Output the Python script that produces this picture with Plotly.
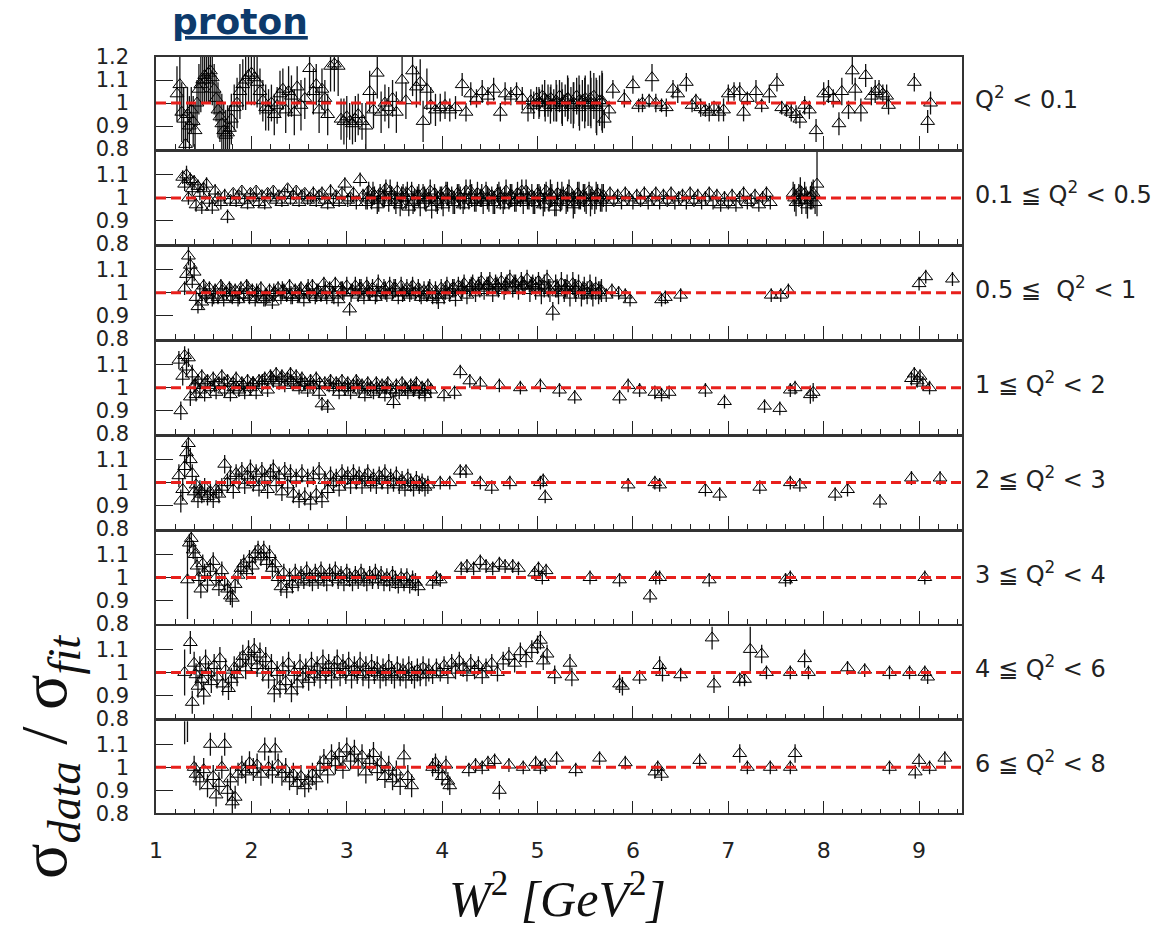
import plotly.graph_objects as go

# ---------------- data (x = W^2, y = sigma_data/sigma_fit, e = error) ----------------
panel_labels = ["Q<sup>2</sup> < 0.1", "0.1 ≦ Q<sup>2</sup> < 0.5", "0.5 ≦  Q<sup>2</sup> < 1",
                "1 ≦ Q<sup>2</sup> < 2", "2 ≦ Q<sup>2</sup> < 3", "3 ≦ Q<sup>2</sup> < 4",
                "4 ≦ Q<sup>2</sup> < 6", "6 ≦ Q<sup>2</sup> < 8"]
x_tick_vals = [1, 2, 3, 4, 5, 6, 7, 8, 9]
x_tick_text = ["1", "2", "3", "4", "5", "6", "7", "8", "9"]
y_tick_vals_top = [0.8, 0.9, 1.0, 1.1, 1.2]
y_tick_text_top = ["0.8", "0.9", "1", "1.1", "1.2"]
y_tick_vals = [0.8, 0.9, 1.0, 1.1]
y_tick_text = ["0.8", "0.9", "1", "1.1"]

q1 = [(1.22,1.04,0.12),(1.25,1.08,0.14),(1.27,0.96,0.13),(1.29,0.93,0.14),(1.31,0.82,0.10),(1.33,0.95,0.12),
      (1.35,0.90,0.13),(1.37,0.97,0.10),(1.39,0.92,0.11),(1.41,0.88,0.12),(1.43,1.00,0.10),(1.45,1.06,0.11),
      (1.47,1.08,0.12),(1.49,1.10,0.11),(1.51,1.12,0.12),(1.53,1.10,0.10),(1.55,1.13,0.13),(1.57,1.14,0.14),
      (1.59,1.11,0.12),(1.61,1.06,0.11),(1.63,1.02,0.10),(1.65,0.97,0.12),(1.67,0.94,0.11),(1.69,0.91,0.13),
      (1.71,0.88,0.12),(1.73,0.86,0.11),(1.75,0.87,0.12),(1.77,0.89,0.10),(1.79,0.93,0.11),(1.82,0.98,0.10),
      (1.85,1.00,0.11),(1.88,1.05,0.12),(1.91,1.08,0.11),(1.94,1.10,0.13),(1.97,1.12,0.12),(2.00,1.13,0.14),
      (2.03,1.11,0.12),(2.06,1.09,0.11),(2.09,1.05,0.10),(2.12,1.01,0.09),(2.15,0.98,0.10),(2.18,0.97,0.09),
      (2.21,1.00,0.08),(2.24,0.95,0.09),(2.27,0.99,0.08),(2.30,1.04,0.10),(2.33,1.06,0.09),(2.36,0.97,0.10),
      (2.39,1.05,0.11),(2.42,1.03,0.09),(2.45,0.96,0.10),(2.48,1.07,0.09),(2.52,0.99,0.11),(2.56,1.02,0.09),
      (2.61,1.15,0.12),(2.65,1.05,0.10),(2.68,1.08,0.09),(2.71,0.97,0.10),(2.74,1.06,0.09),(2.77,1.02,0.08),
      (2.80,0.95,0.09),(2.83,1.16,0.11),(2.87,1.17,0.12),(2.91,1.16,0.13),(2.94,0.93,0.09),(2.97,0.92,0.10),
      (3.00,0.94,0.09),(3.03,0.92,0.08),(3.06,0.91,0.09),(3.09,0.93,0.10),(3.12,0.95,0.09),(3.16,0.92,0.08),
      (3.20,0.90,0.10),(3.24,1.05,0.09),(3.28,0.97,0.08),(3.32,1.13,0.11),(3.36,0.96,0.09),(3.40,1.00,0.08),
      (3.44,0.98,0.09),(3.48,1.02,0.08),(3.52,0.96,0.09),(3.58,1.10,0.10),(3.62,1.01,0.08),(3.69,1.14,0.11),
      (3.73,1.07,0.09),(3.77,1.09,0.10),(3.80,0.92,0.09),(3.84,1.06,0.09),(3.88,0.99,0.08),(3.93,0.97,0.07),
      (3.98,0.98,0.06),(4.03,0.99,0.06),(4.08,0.97,0.05),(4.14,0.98,0.05),(4.21,1.08,0.05),(4.25,0.96,0.04),
      (4.30,1.04,0.05),(4.36,1.02,0.04),(4.42,1.05,0.05),(4.48,1.03,0.04),(4.54,1.06,0.05),(4.61,0.96,0.04),
      (4.66,1.04,0.05),(4.72,1.03,0.04),(4.78,1.05,0.04),(4.84,1.02,0.05),(4.90,0.97,0.05),(4.93,1.01,0.05),
      (4.96,0.99,0.06),(4.99,1.02,0.05),(5.02,1.00,0.06),(5.05,1.03,0.05),(5.08,0.98,0.06),(5.11,1.01,0.07),
      (5.14,1.02,0.06),(5.17,0.99,0.07),(5.20,1.00,0.08),(5.23,1.03,0.07),(5.26,0.98,0.08),(5.29,1.01,0.07),
      (5.32,1.02,0.09),(5.35,0.99,0.08),(5.38,1.00,0.09),(5.41,1.03,0.08),(5.44,0.98,0.10),(5.47,1.01,0.09),
      (5.50,1.02,0.10),(5.53,0.99,0.09),(5.56,1.00,0.11),(5.59,1.03,0.10),(5.62,0.98,0.12),(5.65,1.01,0.11),
      (5.68,1.00,0.13),(5.70,0.93,0.04),(5.75,0.97,0.04),(5.79,1.06,0.04),(5.91,1.02,0.04),(6.00,1.08,0.04),
      (6.06,0.99,0.03),(6.10,1.00,0.04),(6.17,1.01,0.03),(6.20,1.11,0.06),(6.24,1.00,0.04),(6.30,0.99,0.03),
      (6.35,0.98,0.04),(6.42,1.06,0.04),(6.47,1.04,0.04),(6.56,1.09,0.04),(6.62,0.99,0.03),(6.66,1.01,0.03),
      (6.71,0.98,0.04),(6.76,0.97,0.03),(6.80,0.96,0.04),(6.85,0.98,0.03),(6.90,0.96,0.04),(6.95,0.97,0.05),
      (7.00,1.04,0.04),(7.06,1.05,0.04),(7.12,1.05,0.04),(7.16,0.96,0.04),(7.20,1.02,0.03),(7.29,1.05,0.05),
      (7.35,0.99,0.03),(7.43,1.04,0.04),(7.51,1.09,0.04),(7.56,0.98,0.03),(7.61,0.97,0.03),(7.66,0.96,0.04),
      (7.71,0.95,0.04),(7.75,0.93,0.04),(7.80,0.99,0.04),(7.85,0.97,0.04),(7.92,0.88,0.05),(8.00,1.04,0.05),
      (8.05,1.05,0.05),(8.10,1.02,0.04),(8.16,0.91,0.05),(8.19,1.05,0.06),(8.26,0.97,0.04),(8.30,1.14,0.06),
      (8.33,1.06,0.05),(8.39,0.97,0.05),(8.44,1.12,0.05),(8.50,1.03,0.04),(8.54,1.05,0.05),(8.58,1.06,0.04),
      (8.62,1.04,0.04),(8.66,1.03,0.05),(8.68,0.99,0.04),(8.95,1.09,0.04),(9.09,0.92,0.05),(9.12,1.00,0.05),
      (5.015,1.00,0.07),(5.075,1.02,0.08),(5.135,0.99,0.08),(5.195,1.01,0.09),(5.255,1.00,0.09),(5.315,1.02,0.10),
      (5.375,0.99,0.10),(5.435,1.01,0.11),(5.495,1.00,0.11),(5.555,1.02,0.12),(5.615,0.99,0.12),(5.675,1.01,0.13)]

q2 = [(1.28,1.09,0.03),(1.30,1.06,0.03),(1.32,1.10,0.04),(1.34,1.00,0.03),(1.36,1.08,0.03),(1.38,1.04,0.03),
      (1.40,1.07,0.03),(1.42,0.97,0.03),(1.44,1.05,0.03),(1.46,1.02,0.03),(1.48,0.96,0.03),(1.50,1.04,0.03),
      (1.53,1.06,0.03),(1.56,0.99,0.03),(1.59,0.96,0.03),(1.62,1.03,0.03),(1.65,1.00,0.03),(1.68,0.98,0.03),
      (1.72,1.01,0.03),(1.75,0.92,0.03),(1.78,0.99,0.02),(1.81,1.02,0.02),(1.84,0.98,0.02),(1.87,1.01,0.02),
      (1.90,1.03,0.02),(1.93,0.99,0.02),(1.96,0.97,0.02),(1.99,1.02,0.02),(2.02,1.00,0.02),(2.05,1.03,0.02),
      (2.08,0.98,0.02),(2.11,1.01,0.02),(2.14,0.97,0.02),(2.17,1.02,0.02),(2.20,1.00,0.02),(2.23,1.03,0.02),
      (2.26,0.99,0.02),(2.29,1.01,0.02),(2.32,0.98,0.02),(2.35,1.02,0.02),(2.38,1.04,0.02),(2.41,0.99,0.02),
      (2.44,1.01,0.02),(2.47,1.03,0.02),(2.50,0.98,0.02),(2.53,1.01,0.02),(2.56,1.02,0.02),(2.59,0.99,0.02),
      (2.62,1.00,0.02),(2.65,1.02,0.03),(2.68,0.98,0.02),(2.71,1.01,0.02),(2.74,1.02,0.03),(2.77,0.99,0.02),
      (2.80,0.97,0.02),(2.83,1.03,0.03),(2.86,0.99,0.02),(2.89,1.01,0.02),(2.92,0.98,0.02),(2.95,1.02,0.03),
      (2.98,1.06,0.03),(3.01,0.99,0.03),(3.04,1.00,0.02),(3.07,1.02,0.03),(3.10,0.98,0.03),(3.14,1.08,0.03),
      (3.17,1.01,0.03),(3.20,0.98,0.03),(3.23,1.03,0.04),(3.26,0.99,0.04),(3.29,1.01,0.04),(3.32,0.97,0.04),
      (3.35,1.02,0.04),(3.38,1.00,0.04),(3.41,1.04,0.04),(3.44,0.98,0.04),(3.47,1.01,0.04),(3.50,0.99,0.04),
      (3.53,1.03,0.04),(3.56,0.97,0.05),(3.59,1.02,0.04),(3.62,1.00,0.05),(3.65,0.96,0.04),(3.68,1.03,0.04),
      (3.71,0.99,0.05),(3.74,1.01,0.04),(3.77,0.97,0.05),(3.80,1.02,0.04),(3.83,0.99,0.05),(3.86,1.00,0.04),
      (3.89,0.96,0.05),(3.92,1.02,0.04),(3.95,0.98,0.05),(3.98,1.01,0.04),(4.01,0.97,0.05),(4.04,1.03,0.04),
      (4.07,0.99,0.05),(4.10,1.01,0.04),(4.13,0.98,0.05),(4.16,1.02,0.04),(4.19,1.00,0.05),(4.22,0.97,0.04),
      (4.25,1.03,0.05),(4.28,0.99,0.04),(4.31,1.01,0.05),(4.34,0.98,0.04),(4.37,1.02,0.05),(4.40,1.00,0.04),
      (4.43,0.98,0.05),(4.46,1.03,0.04),(4.49,0.99,0.05),(4.52,1.01,0.04),(4.55,0.98,0.05),(4.58,1.02,0.04),
      (4.61,1.00,0.05),(4.64,0.97,0.04),(4.67,1.03,0.05),(4.70,0.99,0.04),(4.73,1.01,0.05),(4.76,0.98,0.04),
      (4.79,1.02,0.05),(4.82,1.00,0.04),(4.85,0.98,0.05),(4.88,1.03,0.05),(4.91,0.99,0.04),(4.94,1.01,0.05),
      (4.97,0.98,0.05),(5.00,1.02,0.04),(5.03,1.00,0.05),(5.06,0.97,0.05),(5.09,1.03,0.04),(5.12,0.99,0.05),
      (5.15,1.01,0.05),(5.18,0.96,0.04),(5.21,1.02,0.05),(5.24,0.99,0.05),(5.27,1.01,0.04),(5.30,0.98,0.05),
      (5.33,1.03,0.05),(5.36,1.00,0.04),(5.39,0.98,0.05),(5.42,1.02,0.05),(5.45,0.99,0.04),(5.48,1.01,0.05),
      (5.51,0.98,0.05),(5.54,1.03,0.04),(5.57,1.00,0.05),(5.60,0.98,0.05),(5.63,1.02,0.04),(5.66,0.99,0.05),
      (5.69,1.01,0.05),(5.72,0.98,0.04),(5.76,1.02,0.03),(5.80,0.99,0.03),(5.84,1.01,0.03),(5.88,0.98,0.03),
      (5.92,1.02,0.03),(5.96,1.00,0.03),(6.00,0.98,0.03),(6.04,1.01,0.03),(6.08,0.99,0.03),(6.12,1.02,0.03),
      (6.16,0.98,0.03),(6.20,1.00,0.03),(6.24,1.02,0.03),(6.28,0.98,0.03),(6.32,1.01,0.03),(6.36,0.99,0.03),
      (6.40,1.02,0.03),(6.44,0.98,0.03),(6.48,1.00,0.03),(6.52,1.01,0.03),(6.56,0.98,0.03),(6.60,1.02,0.03),
      (6.64,0.99,0.03),(6.68,1.01,0.03),(6.72,0.98,0.03),(6.76,1.00,0.03),(6.80,1.02,0.03),(6.84,0.98,0.03),
      (6.88,1.01,0.03),(6.92,0.97,0.03),(6.96,1.00,0.03),(7.00,0.98,0.03),(7.04,1.01,0.03),(7.08,0.97,0.03),
      (7.12,1.00,0.03),(7.16,1.02,0.03),(7.20,0.98,0.03),(7.24,0.99,0.03),(7.28,1.01,0.03),(7.32,0.97,0.03),
      (7.36,1.00,0.03),(7.40,1.02,0.03),(7.44,0.98,0.03),(7.68,1.02,0.05),(7.71,0.98,0.06),(7.74,1.01,0.05),
      (7.77,0.99,0.06),(7.80,1.02,0.05),(7.83,0.97,0.06),(7.86,1.00,0.05),(7.89,1.02,0.06),(7.91,0.98,0.05),
      (7.93,1.06,0.14),
      (3.215,1.00,0.05),(3.275,1.02,0.05),(3.335,0.99,0.05),(3.395,1.01,0.05),(3.455,1.03,0.05),(3.515,0.98,0.05),
      (3.575,1.00,0.05),(3.635,1.02,0.05),(3.695,0.98,0.05),(3.755,1.01,0.05),(3.815,1.00,0.05),(3.875,1.03,0.05),
      (3.935,0.99,0.05),(3.995,1.00,0.05),(4.055,1.02,0.05),(4.115,0.98,0.05),(4.175,1.01,0.05),(4.235,1.00,0.05),
      (4.295,1.03,0.05),(4.355,0.99,0.05),(4.415,1.01,0.05),(4.475,1.00,0.05),(4.535,0.98,0.05),(4.595,1.02,0.05),
      (4.655,1.00,0.05),(4.715,1.01,0.05),(4.775,0.99,0.05),(4.835,1.03,0.05),(4.895,1.00,0.05),(4.955,0.98,0.05),
      (5.015,1.01,0.05),(5.075,1.00,0.06),(5.135,1.02,0.06),(5.195,0.98,0.06),(5.255,1.01,0.06),(5.315,1.00,0.06),
      (5.375,0.97,0.06),(5.435,1.01,0.06),(5.495,1.00,0.06),(5.555,0.98,0.06),(5.615,1.01,0.06),(5.675,1.00,0.06),
      (7.695,1.00,0.06),(7.755,1.03,0.06),(7.815,0.99,0.06),(7.875,1.01,0.06)]

q3 = [(1.30,1.02,0.03),(1.32,1.08,0.04),(1.34,1.16,0.04),(1.36,1.12,0.04),(1.38,1.05,0.03),(1.40,1.09,0.04),
      (1.42,0.98,0.03),(1.44,0.94,0.03),(1.46,1.01,0.03),(1.48,0.96,0.03),(1.50,1.03,0.03),(1.53,0.99,0.03),
      (1.56,1.02,0.03),(1.59,0.97,0.03),(1.62,1.01,0.03),(1.65,0.98,0.03),(1.68,1.03,0.03),(1.71,0.97,0.03),
      (1.74,1.00,0.03),(1.77,1.02,0.03),(1.80,0.98,0.03),(1.83,1.01,0.03),(1.86,0.97,0.03),(1.89,1.02,0.03),
      (1.92,0.99,0.03),(1.95,1.03,0.03),(1.98,0.98,0.03),(2.01,1.01,0.03),(2.04,0.97,0.03),(2.07,1.00,0.03),
      (2.10,1.02,0.03),(2.13,0.97,0.03),(2.16,0.99,0.03),(2.19,1.01,0.03),(2.22,0.96,0.03),(2.25,1.00,0.03),
      (2.28,1.02,0.03),(2.31,0.98,0.03),(2.34,1.01,0.03),(2.37,0.99,0.03),(2.40,1.03,0.03),(2.43,0.98,0.03),
      (2.46,1.01,0.03),(2.49,0.99,0.03),(2.52,1.02,0.03),(2.55,0.97,0.03),(2.58,1.01,0.03),(2.61,0.99,0.03),
      (2.64,1.03,0.03),(2.67,0.98,0.03),(2.70,1.01,0.03),(2.73,0.99,0.03),(2.76,1.04,0.03),(2.79,0.98,0.03),
      (2.82,1.02,0.03),(2.85,1.00,0.03),(2.88,1.04,0.03),(2.91,0.97,0.03),(2.94,1.02,0.03),(2.97,1.00,0.03),
      (3.00,1.03,0.04),(3.03,0.93,0.03),(3.06,1.01,0.03),(3.09,1.03,0.04),(3.12,0.99,0.03),(3.15,1.02,0.04),
      (3.18,0.98,0.03),(3.21,1.03,0.04),(3.24,1.00,0.03),(3.27,1.02,0.04),(3.30,0.98,0.03),(3.33,1.04,0.04),
      (3.36,1.00,0.03),(3.39,1.02,0.04),(3.42,0.99,0.03),(3.45,1.03,0.04),(3.48,1.00,0.03),(3.51,1.02,0.04),
      (3.54,0.98,0.03),(3.57,1.03,0.04),(3.60,1.00,0.03),(3.63,1.02,0.04),(3.66,0.99,0.03),(3.69,1.03,0.04),
      (3.72,1.00,0.03),(3.75,1.02,0.04),(3.78,0.98,0.03),(3.81,1.01,0.04),(3.84,0.99,0.03),(3.87,1.02,0.04),
      (3.90,0.98,0.03),(3.93,1.01,0.04),(3.96,0.97,0.04),(3.99,1.02,0.04),(4.02,0.99,0.04),(4.05,1.03,0.04),
      (4.08,1.00,0.04),(4.11,1.02,0.04),(4.14,0.98,0.04),(4.17,1.03,0.04),(4.20,1.01,0.04),(4.23,1.04,0.04),
      (4.26,0.99,0.04),(4.29,1.02,0.04),(4.32,1.04,0.04),(4.35,1.00,0.04),(4.38,1.03,0.04),(4.41,1.05,0.04),
      (4.44,1.01,0.04),(4.47,1.03,0.04),(4.50,1.05,0.04),(4.53,1.00,0.04),(4.56,1.04,0.04),(4.59,1.02,0.04),
      (4.62,1.05,0.04),(4.65,1.01,0.04),(4.68,1.04,0.04),(4.71,1.06,0.04),(4.74,1.02,0.04),(4.77,1.04,0.04),
      (4.80,1.01,0.04),(4.83,1.05,0.04),(4.86,1.03,0.04),(4.89,1.06,0.04),(4.92,1.01,0.05),(4.95,1.04,0.04),
      (4.98,1.02,0.05),(5.01,1.05,0.04),(5.04,1.00,0.05),(5.07,1.03,0.05),(5.10,1.06,0.04),(5.13,1.01,0.05),
      (5.16,0.92,0.04),(5.19,1.03,0.05),(5.22,1.00,0.05),(5.25,1.04,0.05),(5.28,1.01,0.05),(5.31,1.03,0.05),
      (5.34,0.99,0.05),(5.37,1.04,0.05),(5.40,1.01,0.05),(5.43,1.03,0.05),(5.46,0.99,0.05),(5.49,1.02,0.05),
      (5.52,1.00,0.05),(5.55,1.03,0.05),(5.58,0.99,0.05),(5.61,1.02,0.05),(5.64,1.00,0.05),(5.67,1.01,0.05),
      (5.72,0.99,0.03),(5.78,1.01,0.03),(5.85,1.00,0.03),(5.92,0.99,0.03),(5.97,0.97,0.03),(6.30,0.97,0.03),
      (6.34,0.98,0.03),(6.50,0.99,0.03),(7.45,0.99,0.03),(7.55,0.99,0.03),(7.63,1.01,0.03),(9.00,1.04,0.03),
      (9.07,1.07,0.03),(9.35,1.06,0.03),
      (1.515,1.00,0.04),(1.605,0.99,0.04),(1.695,1.01,0.04),(1.785,1.00,0.04),(1.875,0.99,0.04),(1.965,1.01,0.04),
      (2.055,1.00,0.04),(2.145,0.98,0.04),(2.235,1.00,0.04),(2.325,1.01,0.04),(2.415,0.99,0.04),(2.505,1.00,0.04),
      (2.595,1.02,0.04),(2.685,1.00,0.04),(2.775,1.01,0.04),(2.865,0.99,0.04),(2.955,1.01,0.04),(3.045,1.00,0.04),
      (3.135,1.02,0.04),(3.225,1.01,0.04),(3.315,1.00,0.04),(3.405,1.01,0.04),(3.495,1.02,0.04),(3.585,1.00,0.04),
      (3.675,1.01,0.04),(3.765,1.00,0.04),(3.855,1.01,0.04),(3.945,0.99,0.04),(4.035,1.01,0.04),(4.125,1.02,0.04),
      (4.215,1.02,0.04),(4.305,1.03,0.04),(4.395,1.02,0.04),(4.485,1.03,0.04),(4.575,1.03,0.04),(4.665,1.03,0.04),
      (4.755,1.04,0.04),(4.845,1.03,0.04),(4.935,1.03,0.04),(5.025,1.03,0.04),(5.115,1.02,0.04),(5.205,1.02,0.04),
      (5.295,1.02,0.04),(5.385,1.02,0.04),(5.475,1.01,0.04),(5.565,1.01,0.04),(5.655,1.01,0.04)]

q4 = [(1.24,1.12,0.04),(1.26,0.90,0.04),(1.28,1.05,0.04),(1.30,1.14,0.04),(1.32,1.09,0.04),(1.34,1.13,0.04),
      (1.36,0.96,0.04),(1.38,1.06,0.04),(1.40,1.01,0.03),(1.42,0.97,0.03),(1.44,1.03,0.03),(1.46,0.99,0.03),
      (1.48,1.05,0.03),(1.51,0.97,0.03),(1.54,1.03,0.03),(1.57,1.00,0.03),(1.60,1.04,0.03),(1.63,0.98,0.03),
      (1.66,1.02,0.03),(1.69,1.05,0.03),(1.72,0.99,0.03),(1.75,1.03,0.03),(1.78,0.97,0.03),(1.81,1.02,0.03),
      (1.84,1.04,0.03),(1.87,0.99,0.03),(1.90,1.02,0.03),(1.93,0.98,0.03),(1.96,1.03,0.03),(1.99,1.00,0.03),
      (2.02,1.02,0.03),(2.05,0.98,0.03),(2.08,1.03,0.03),(2.11,1.01,0.03),(2.14,1.04,0.03),(2.17,0.99,0.03),
      (2.20,1.05,0.03),(2.23,1.03,0.03),(2.26,1.06,0.03),(2.29,1.02,0.03),(2.32,1.05,0.03),(2.35,1.01,0.03),
      (2.38,1.04,0.03),(2.41,1.06,0.03),(2.44,1.02,0.03),(2.47,1.05,0.03),(2.50,1.00,0.03),(2.53,1.04,0.03),
      (2.56,1.02,0.03),(2.59,0.99,0.03),(2.62,1.03,0.03),(2.65,1.01,0.03),(2.68,1.04,0.03),(2.71,0.98,0.03),
      (2.74,0.93,0.03),(2.77,1.02,0.03),(2.80,0.92,0.03),(2.83,1.03,0.03),(2.86,1.00,0.03),(2.89,1.02,0.03),
      (2.92,0.98,0.03),(2.95,1.03,0.03),(2.98,1.00,0.03),(3.01,1.02,0.03),(3.04,0.98,0.03),(3.07,1.01,0.03),
      (3.10,1.03,0.03),(3.13,0.99,0.03),(3.16,1.01,0.03),(3.19,0.97,0.03),(3.22,1.02,0.03),(3.25,1.00,0.03),
      (3.28,0.98,0.03),(3.31,1.02,0.03),(3.34,0.99,0.03),(3.37,1.01,0.03),(3.40,0.97,0.03),(3.43,1.02,0.03),
      (3.46,0.99,0.03),(3.49,0.94,0.03),(3.52,1.01,0.03),(3.55,0.98,0.03),(3.58,1.02,0.03),(3.61,1.00,0.03),
      (3.64,0.98,0.03),(3.67,1.01,0.03),(3.70,0.99,0.03),(3.73,1.02,0.03),(3.76,0.98,0.03),(3.79,1.00,0.03),
      (3.82,0.97,0.03),(3.85,1.01,0.03),(3.88,0.99,0.03),(4.02,0.97,0.03),(4.13,0.98,0.03),(4.19,1.07,0.03),
      (4.29,1.03,0.03),(4.40,1.02,0.03),(4.60,1.01,0.03),(4.82,1.00,0.03),(5.03,1.01,0.03),(5.23,0.99,0.03),
      (5.39,0.96,0.03),(5.86,0.96,0.03),(5.95,1.01,0.03),(6.07,0.99,0.03),(6.23,0.98,0.03),(6.30,0.97,0.03),
      (6.38,0.98,0.03),(6.76,0.99,0.03),(6.96,0.94,0.03),(7.38,0.92,0.03),(7.54,0.91,0.03),(7.65,0.99,0.03),
      (7.70,1.00,0.03),(7.86,0.97,0.04),(7.89,0.98,0.04),(8.92,1.04,0.03),(8.95,1.06,0.03),(8.98,1.03,0.03),
      (9.01,1.05,0.03),(9.04,1.02,0.03),(9.11,1.00,0.03),
      (1.415,1.01,0.03),(1.515,1.02,0.03),(1.615,1.01,0.03),(1.715,1.02,0.03),(1.815,1.00,0.03),(1.915,1.01,0.03),
      (2.015,1.02,0.03),(2.115,1.03,0.03),(2.215,1.04,0.03),(2.315,1.04,0.03),(2.415,1.03,0.03),(2.515,1.02,0.03),
      (2.615,1.01,0.03),(2.715,1.02,0.03),(2.815,1.01,0.03),(2.915,1.01,0.03),(3.015,1.00,0.03),(3.115,1.01,0.03),
      (3.215,1.00,0.03),(3.315,1.00,0.03),(3.415,1.00,0.03),(3.515,0.99,0.03),(3.615,1.00,0.03),(3.715,1.00,0.03),
      (3.815,0.99,0.03)]

q5 = [(1.24,1.03,0.05),(1.26,0.92,0.05),(1.28,0.97,0.05),(1.30,1.07,0.05),(1.32,1.13,0.05),(1.34,1.17,0.05),
      (1.36,1.10,0.05),(1.38,1.04,0.04),(1.40,0.96,0.04),(1.42,0.99,0.04),(1.44,0.93,0.04),(1.46,0.97,0.04),
      (1.48,0.95,0.04),(1.51,0.98,0.04),(1.54,0.94,0.04),(1.57,0.96,0.04),(1.60,0.93,0.04),(1.63,0.97,0.04),
      (1.66,0.95,0.04),(1.69,0.98,0.04),(1.72,1.08,0.04),(1.75,1.00,0.04),(1.78,1.03,0.04),(1.81,0.97,0.04),
      (1.84,1.04,0.04),(1.87,1.01,0.04),(1.90,1.05,0.04),(1.93,0.99,0.04),(1.96,1.03,0.04),(1.99,1.06,0.04),
      (2.02,1.00,0.04),(2.05,1.04,0.04),(2.08,0.98,0.04),(2.11,1.05,0.04),(2.14,1.02,0.04),(2.17,0.97,0.04),
      (2.20,1.04,0.04),(2.23,1.06,0.04),(2.26,1.00,0.04),(2.29,1.03,0.04),(2.32,0.96,0.04),(2.35,1.05,0.04),
      (2.38,0.99,0.04),(2.41,1.04,0.04),(2.44,0.95,0.04),(2.47,1.02,0.04),(2.50,0.93,0.04),(2.53,1.04,0.04),
      (2.56,0.94,0.04),(2.59,1.02,0.04),(2.62,0.92,0.04),(2.65,1.03,0.04),(2.68,0.95,0.04),(2.71,1.05,0.04),
      (2.74,0.93,0.04),(2.77,1.01,0.04),(2.80,0.97,0.04),(2.83,1.03,0.04),(2.86,1.00,0.04),(2.89,1.02,0.04),
      (2.92,0.98,0.04),(2.95,1.04,0.04),(2.98,1.01,0.04),(3.01,1.03,0.04),(3.04,0.99,0.04),(3.07,1.04,0.04),
      (3.10,1.01,0.04),(3.13,1.03,0.04),(3.16,0.99,0.04),(3.19,1.02,0.04),(3.22,1.04,0.04),(3.25,1.00,0.04),
      (3.28,1.02,0.04),(3.31,0.99,0.04),(3.34,1.03,0.04),(3.37,1.01,0.04),(3.40,1.04,0.04),(3.43,0.99,0.04),
      (3.46,1.02,0.04),(3.49,1.00,0.04),(3.52,1.03,0.04),(3.55,0.99,0.04),(3.58,1.01,0.04),(3.61,0.98,0.04),
      (3.64,1.02,0.04),(3.67,1.00,0.04),(3.70,0.98,0.04),(3.73,1.01,0.04),(3.76,0.99,0.04),(3.79,1.00,0.04),
      (3.82,0.98,0.04),(3.85,0.99,0.04),(3.98,1.00,0.03),(4.08,1.00,0.03),(4.19,1.05,0.03),(4.25,1.05,0.03),
      (4.40,1.00,0.03),(4.52,0.98,0.03),(4.71,1.00,0.03),(5.03,1.00,0.03),(5.06,1.01,0.03),(5.08,0.94,0.03),
      (5.95,0.99,0.03),(6.23,1.00,0.03),(6.28,0.99,0.03),(6.76,0.97,0.03),(6.91,0.95,0.03),(7.33,0.98,0.03),
      (7.65,1.00,0.03),(7.75,0.99,0.03),(8.12,0.95,0.03),(8.25,0.97,0.03),(8.59,0.92,0.03),(8.92,1.02,0.03),
      (9.22,1.02,0.03)]

q6 = [(1.33,0.99,0.17),(1.35,1.15,0.04),(1.37,1.17,0.04),(1.39,1.12,0.04),(1.41,1.10,0.04),(1.43,1.05,0.04),
      (1.45,1.00,0.04),(1.47,0.95,0.04),(1.49,1.06,0.04),(1.51,1.02,0.04),(1.54,0.98,0.04),(1.57,1.04,0.04),
      (1.60,1.07,0.04),(1.63,1.00,0.04),(1.66,0.96,0.04),(1.69,1.03,0.04),(1.72,0.98,0.04),(1.75,0.95,0.04),
      (1.78,0.92,0.04),(1.80,0.91,0.04),(1.83,0.97,0.04),(1.86,1.01,0.04),(1.89,1.04,0.04),(1.92,1.06,0.04),
      (1.95,1.03,0.04),(1.98,1.08,0.04),(2.01,1.05,0.04),(2.04,1.10,0.04),(2.07,1.12,0.04),(2.10,1.09,0.04),
      (2.13,1.12,0.04),(2.16,1.07,0.04),(2.19,1.10,0.04),(2.22,1.04,0.04),(2.25,1.06,0.04),(2.28,1.00,0.04),
      (2.31,0.96,0.04),(2.34,1.02,0.04),(2.37,0.95,0.04),(2.40,1.00,0.04),(2.43,0.97,0.04),(2.46,1.02,0.04),
      (2.49,0.98,0.04),(2.52,1.01,0.04),(2.55,0.99,0.04),(2.58,1.03,0.04),(2.61,1.00,0.04),(2.64,0.98,0.04),
      (2.67,1.02,0.04),(2.70,0.99,0.04),(2.73,1.03,0.04),(2.76,1.00,0.04),(2.79,0.98,0.04),(2.82,1.02,0.04),
      (2.85,1.00,0.04),(2.88,1.03,0.04),(2.91,0.99,0.04),(2.94,1.01,0.04),(2.97,0.98,0.04),(3.00,1.02,0.04),
      (3.03,1.00,0.04),(3.06,0.98,0.04),(3.09,1.01,0.04),(3.12,0.99,0.04),(3.15,1.02,0.04),(3.18,1.00,0.04),
      (3.21,0.98,0.04),(3.24,1.01,0.04),(3.27,0.99,0.04),(3.30,1.02,0.04),(3.33,0.99,0.04),(3.36,1.01,0.04),
      (3.39,0.98,0.04),(3.42,1.00,0.04),(3.45,0.98,0.04),(3.48,1.01,0.04),(3.51,0.99,0.04),(3.54,0.97,0.04),
      (3.57,1.00,0.04),(3.60,0.98,0.04),(3.63,1.00,0.04),(3.66,0.97,0.04),(3.69,0.99,0.04),(3.72,0.98,0.04),
      (3.75,0.96,0.04),(3.90,0.98,0.03),(3.94,1.00,0.03),(3.98,0.99,0.03),(4.20,1.04,0.03),(4.26,1.05,0.03),
      (4.33,1.04,0.03),(4.40,1.07,0.03),(4.46,1.05,0.03),(4.53,1.04,0.03),(4.60,1.06,0.03),(4.66,1.05,0.03),
      (4.74,1.05,0.03),(4.80,1.04,0.03),(4.97,1.02,0.03),(5.01,1.04,0.03),(5.05,1.00,0.03),(5.09,1.03,0.03),
      (5.55,1.00,0.03),(5.86,0.99,0.03),(6.18,0.92,0.03),(6.24,1.00,0.03),(6.28,1.00,0.03),(6.80,0.99,0.03),
      (7.60,0.99,0.03),(7.65,1.00,0.03),(9.06,1.00,0.03)]

q7 = [(1.30,1.00,0.10),(1.36,1.13,0.05),(1.38,0.87,0.05),(1.40,1.04,0.05),(1.42,0.99,0.05),(1.44,0.94,0.05),
      (1.46,1.02,0.05),(1.48,0.97,0.05),(1.50,0.91,0.05),(1.52,1.05,0.05),(1.55,1.00,0.05),(1.58,0.96,0.05),
      (1.61,1.03,0.05),(1.64,0.98,0.05),(1.67,1.06,0.05),(1.70,0.95,0.05),(1.73,1.01,0.05),(1.76,0.93,0.05),
      (1.79,0.97,0.05),(1.82,1.02,0.05),(1.85,0.99,0.05),(1.88,1.04,0.05),(1.91,1.07,0.05),(1.94,1.02,0.05),
      (1.97,1.09,0.05),(2.00,1.05,0.05),(2.03,1.10,0.05),(2.06,1.03,0.05),(2.09,1.08,0.05),(2.12,1.01,0.05),
      (2.15,1.06,0.05),(2.18,0.98,0.05),(2.21,1.03,0.05),(2.24,0.92,0.05),(2.27,1.00,0.05),(2.30,0.94,0.05),
      (2.33,1.02,0.05),(2.36,0.96,0.05),(2.39,1.04,0.05),(2.42,0.92,0.05),(2.45,1.00,0.05),(2.48,0.95,0.05),
      (2.51,1.03,0.05),(2.54,0.98,0.05),(2.57,1.01,0.05),(2.60,0.97,0.05),(2.63,1.04,0.05),(2.66,0.99,0.05),
      (2.69,1.02,0.05),(2.72,0.98,0.05),(2.75,1.05,0.05),(2.78,1.00,0.05),(2.81,1.03,0.05),(2.84,0.98,0.05),
      (2.87,1.02,0.05),(2.90,1.05,0.05),(2.93,0.99,0.05),(2.96,1.03,0.05),(2.99,1.00,0.05),(3.02,1.04,0.05),
      (3.05,0.98,0.05),(3.08,1.02,0.05),(3.11,1.00,0.05),(3.14,1.04,0.05),(3.17,0.99,0.05),(3.20,1.02,0.05),
      (3.23,0.98,0.05),(3.26,1.03,0.05),(3.29,1.00,0.05),(3.32,1.02,0.05),(3.35,0.98,0.05),(3.38,1.01,0.05),
      (3.41,0.99,0.05),(3.44,1.03,0.05),(3.47,1.00,0.05),(3.50,0.98,0.05),(3.53,1.02,0.05),(3.56,0.99,0.05),
      (3.59,1.01,0.05),(3.62,0.98,0.05),(3.65,1.02,0.05),(3.68,1.00,0.05),(3.71,0.98,0.05),(3.74,1.01,0.05),
      (3.77,0.99,0.05),(3.80,1.02,0.05),(3.83,0.99,0.05),(3.86,1.01,0.05),(3.90,0.99,0.04),(3.94,1.02,0.04),
      (3.98,1.00,0.04),(4.02,1.03,0.04),(4.06,0.99,0.04),(4.10,1.04,0.04),(4.14,1.01,0.04),(4.18,1.05,0.04),
      (4.22,1.02,0.04),(4.26,1.00,0.04),(4.30,1.04,0.04),(4.34,1.01,0.04),(4.38,1.03,0.04),(4.42,0.99,0.04),
      (4.46,1.02,0.04),(4.52,1.04,0.04),(4.58,1.00,0.04),(4.64,1.05,0.04),(4.70,1.07,0.04),(4.76,1.04,0.04),
      (4.82,1.09,0.04),(4.88,1.06,0.04),(4.94,1.10,0.04),(5.00,1.12,0.04),(5.03,1.14,0.04),(5.06,1.05,0.04),
      (5.10,1.08,0.04),(5.18,0.99,0.04),(5.34,1.04,0.04),(5.36,0.98,0.04),(5.86,0.95,0.04),(5.89,0.94,0.04),
      (6.07,0.98,0.03),(6.28,1.03,0.04),(6.31,1.00,0.04),(6.50,0.99,0.03),(6.83,1.15,0.05),(6.85,0.95,0.04),
      (7.12,0.97,0.03),(7.17,0.97,0.03),(7.23,1.10,0.10),(7.35,1.08,0.04),(7.40,1.00,0.03),(7.65,1.00,0.03),
      (7.80,1.06,0.04),(7.84,1.00,0.03),(8.25,1.02,0.03),(8.43,1.01,0.03),(8.69,1.00,0.03),(8.90,1.00,0.03),
      (9.06,1.00,0.03),(9.09,0.98,0.03)]

q8 = [(1.30,1.22,0.12),(1.33,1.24,0.13),(1.40,1.00,0.05),(1.42,0.97,0.05),(1.46,0.95,0.05),(1.50,0.99,0.05),
      (1.54,0.92,0.05),(1.57,1.10,0.05),(1.60,0.96,0.05),(1.63,0.88,0.05),(1.66,0.93,0.05),(1.69,1.00,0.05),
      (1.72,1.10,0.05),(1.75,0.90,0.05),(1.78,0.95,0.05),(1.80,0.85,0.05),(1.83,0.87,0.05),(1.86,0.97,0.05),
      (1.90,1.00,0.05),(1.94,0.98,0.05),(1.98,1.02,0.05),(2.02,0.99,0.05),(2.06,1.01,0.05),(2.10,0.97,0.05),
      (2.14,1.08,0.05),(2.18,1.00,0.05),(2.22,0.98,0.05),(2.25,1.08,0.05),(2.28,1.01,0.05),(2.32,0.97,0.05),
      (2.36,0.99,0.05),(2.40,0.95,0.05),(2.44,0.97,0.05),(2.48,0.93,0.05),(2.52,0.96,0.05),(2.56,0.92,0.05),
      (2.60,0.94,0.05),(2.64,0.97,0.05),(2.68,0.95,0.05),(2.72,1.00,0.05),(2.76,1.03,0.05),(2.80,0.98,0.05),
      (2.84,1.05,0.05),(2.88,1.02,0.05),(2.92,1.06,0.05),(2.96,1.00,0.05),(3.00,1.08,0.05),(3.04,1.04,0.05),
      (3.08,1.07,0.05),(3.12,1.01,0.05),(3.16,1.05,0.05),(3.20,0.98,0.05),(3.24,1.03,0.05),(3.28,1.06,0.05),
      (3.32,0.99,0.05),(3.36,1.02,0.05),(3.40,0.96,0.05),(3.44,1.00,0.05),(3.48,0.95,0.05),(3.52,0.98,0.05),
      (3.56,0.93,0.05),(3.60,1.05,0.05),(3.64,0.96,0.05),(3.68,0.92,0.05),(3.90,1.00,0.04),(3.93,1.02,0.04),
      (3.96,0.99,0.04),(4.00,0.96,0.04),(4.04,1.01,0.04),(4.06,0.94,0.04),(4.08,0.92,0.04),(4.28,0.99,0.03),
      (4.35,1.01,0.03),(4.42,1.00,0.03),(4.48,1.02,0.03),(4.55,1.03,0.03),(4.60,0.90,0.04),(4.70,1.01,0.03),
      (4.85,1.00,0.03),(4.98,1.02,0.03),(5.03,1.00,0.03),(5.08,1.01,0.03),(5.20,1.04,0.03),(5.40,0.99,0.03),
      (5.65,1.04,0.03),(5.92,1.02,0.03),(6.23,0.98,0.03),(6.26,1.00,0.03),(6.30,0.97,0.03),(6.70,1.03,0.03),
      (7.12,1.06,0.04),(7.20,1.00,0.03),(7.44,1.00,0.03),(7.65,1.00,0.03),(7.70,1.06,0.04),(8.69,1.00,0.03),
      (8.96,0.98,0.03),(9.00,1.03,0.03),(9.11,1.00,0.03),(9.27,1.04,0.03)]

panels = [q1, q2, q3, q4, q5, q6, q7, q8]

# ---------------- layout geometry (pixels) ----------------
W, H = 1156, 927
left_px, right_px = 156, 962
top0, step, ph = 57, 94.9, 92
tick_font = "DejaVu Sans"

fig = go.Figure()
layout = dict(width=W, height=H, margin=dict(l=0, r=0, t=0, b=0, autoexpand=False),
              paper_bgcolor="white", plot_bgcolor="white", showlegend=False)
shapes = []
annotations = []

for k, pts in enumerate(panels):
    n = k + 1
    xs = [p[0] for p in pts]
    ys = [p[1] for p in pts]
    es = [p[2] for p in pts]
    xa = "x" if n == 1 else f"x{n}"
    ya = "y" if n == 1 else f"y{n}"
    fig.add_trace(go.Scatter(
        x=xs, y=ys, mode="markers", xaxis=xa, yaxis=ya,
        marker=dict(symbol="triangle-up-open", size=12, color="black",
                    line=dict(width=1, color="black")),
        error_y=dict(type="data", array=es, visible=True, thickness=1.3, width=0, color="#111"),
        cliponaxis=True))
    top = top0 + step * k
    bot = top + ph
    dom_y = [1 - bot / H, 1 - top / H]
    last = (k == len(panels) - 1)
    xkey = "xaxis" if n == 1 else f"xaxis{n}"
    ykey = "yaxis" if n == 1 else f"yaxis{n}"
    layout[xkey] = dict(domain=[left_px / W, right_px / W], anchor=ya, range=[1, 9.45],
                        automargin=False,
                        tickvals=x_tick_vals, ticktext=x_tick_text, showticklabels=last,
                        ticks="inside", ticklen=13, tickwidth=1, tickcolor="#222",
                        minor=dict(dtick=0.2, tick0=1, ticks="inside", ticklen=5, tickwidth=1, tickcolor="#222"),
                        showline=True, linecolor="#333", linewidth=1.5, mirror=True,
                        showgrid=False, zeroline=False,
                        tickfont=dict(family=tick_font, size=22, color="#222"),
                        ticklabelstandoff=17)
    tv = y_tick_vals_top if k == 0 else y_tick_vals
    tt = y_tick_text_top if k == 0 else y_tick_text
    layout[ykey] = dict(domain=dom_y, anchor=xa, range=[0.8, 1.2],
                        automargin=False,
                        tickvals=tv, ticktext=tt,
                        ticks="inside", ticklen=17, tickwidth=1, tickcolor="#222",
                        showline=True, linecolor="#333", linewidth=1.5, mirror=True,
                        showgrid=False, zeroline=False,
                        tickfont=dict(family=tick_font, size=21, color="#222"),
                        ticklabelstandoff=21)
    shapes.append(dict(type="line", xref=f"{xa} domain", yref=ya, x0=0, x1=1, y0=1, y1=1,
                       line=dict(color="#e8201c", width=3, dash="10px,5px"), layer="above"))
    annotations.append(dict(text=panel_labels[k], xref="paper", yref="paper",
                            x=973 / W, y=1 - (top + 41) / H, xanchor="left", yanchor="middle",
                            showarrow=False, font=dict(family=tick_font, size=24, color="#222")))

annotations.append(dict(text="<b><u>proton</u></b>", xref="paper", yref="paper",
                        x=170 / W, y=1 - 22 / H, xanchor="left", yanchor="middle", showarrow=False,
                        font=dict(family="DejaVu Sans", size=36, color="#0d3a6b")))
annotations.append(dict(text="<i>W</i><sup>2</sup> <i>[GeV</i><sup>2</sup><i>]</i>", xref="paper", yref="paper",
                        x=557 / W, y=1 - 895 / H, xanchor="center", yanchor="middle", showarrow=False,
                        font=dict(family="Liberation Serif", size=50, color="#111")))
annotations.append(dict(text="σ<sub><i>data</i></sub> / σ<sub><i>fit</i></sub>", xref="paper", yref="paper",
                        x=48 / W, y=1 - 757 / H, xanchor="center", yanchor="middle", showarrow=False,
                        textangle=-90,
                        font=dict(family="Liberation Serif", size=66, color="#111")))

layout["shapes"] = shapes
layout["annotations"] = annotations
fig.update_layout(**layout)
fig.write_html("out.html")
